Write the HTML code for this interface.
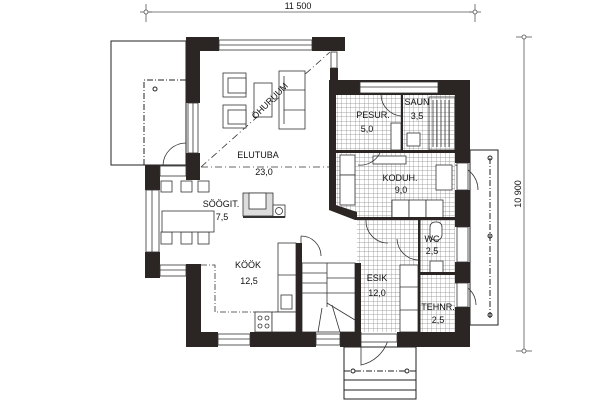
<!DOCTYPE html>
<html><head><meta charset="utf-8"><style>
html,body{margin:0;padding:0;background:#fff;}
svg{display:block;}
text{font-family:"Liberation Sans",sans-serif;font-size:9px;fill:#111;text-anchor:middle;}
</style></head><body>
<svg width="606" height="403" viewBox="0 0 606 403" xmlns="http://www.w3.org/2000/svg">
<defs>
<pattern id="g" width="4.5" height="4.5" patternUnits="userSpaceOnUse">
<rect width="4.5" height="4.5" fill="#fff"/>
<path d="M4.5 0V4.5M0 4.5H4.5" stroke="#888" stroke-width="0.7"/>
</pattern>
</defs>
<g stroke="#555" stroke-width="0.8" fill="none">
<line x1="146" y1="12" x2="475" y2="12"/>
<line x1="146" y1="4" x2="146" y2="22"/><line x1="475" y1="4" x2="475" y2="22"/>
<line x1="140" y1="12" x2="152" y2="12"/><line x1="469" y1="12" x2="481" y2="12"/>
<circle cx="146" cy="12" r="2" fill="#fff"/><circle cx="475" cy="12" r="2" fill="#fff"/>
<line x1="524" y1="37" x2="524" y2="351"/>
<line x1="516" y1="37" x2="532" y2="37"/><line x1="516" y1="351" x2="532" y2="351"/>
<circle cx="524" cy="37" r="2" fill="#fff"/><circle cx="524" cy="351" r="2" fill="#fff"/>
</g>
<text x="298" y="9">11 500</text>
<text transform="translate(521,194) rotate(-90)">10 900</text>

<g stroke="#222" stroke-width="1" fill="none">
<rect x="111" y="41" width="75" height="124"/>
<path d="M144 165V80H186" stroke-dasharray="6,2,1,2"/>
<circle cx="155" cy="89" r="2"/>
<rect x="470" y="150" width="28" height="175"/>
<line x1="490" y1="158" x2="490" y2="318" stroke-dasharray="6,2,1,2"/>
<circle cx="490" cy="158" r="2"/><circle cx="490" cy="236" r="2"/><circle cx="490" cy="315" r="2"/>
<rect x="344" y="347" width="72" height="52"/>
<line x1="344" y1="371" x2="416" y2="371" stroke-dasharray="6,2,1,2"/>
<line x1="344" y1="380" x2="416" y2="380"/><line x1="344" y1="390" x2="416" y2="390"/>
<circle cx="353" cy="371" r="2" fill="#fff"/><circle cx="407" cy="371" r="2" fill="#fff"/>
</g>

<g fill="url(#g)">
<rect x="336" y="95" width="119" height="123"/>
<rect x="357" y="220" width="98" height="112"/>
<path d="M336 205L357 218H336Z" fill="#fff"/>
</g>

<g stroke="#333" stroke-width="0.8" fill="none" stroke-dasharray="7,3,1,3">
<line x1="201" y1="167" x2="330" y2="52"/>
<line x1="201" y1="167" x2="330" y2="167"/>
</g>

<g stroke="#333" stroke-width="0.8" fill="#fff">
<rect x="279" y="71" width="26" height="58"/><line x1="284" y1="76" x2="284" y2="124"/>
<line x1="284" y1="90" x2="305" y2="90"/><line x1="284" y1="110" x2="305" y2="110"/>
<rect x="223" y="73" width="23" height="24"/><rect x="228" y="78" width="18" height="15"/>
<rect x="223" y="105" width="23" height="23"/><rect x="228" y="110" width="18" height="14"/>
<rect x="254" y="83" width="18" height="34"/>
<rect x="161" y="181" width="11" height="11"/><rect x="181" y="181" width="11" height="11"/><rect x="198" y="181" width="11" height="11"/>
<rect x="161" y="232" width="11" height="12"/><rect x="181" y="232" width="11" height="12"/><rect x="198" y="232" width="11" height="12"/>
<rect x="162" y="211" width="52" height="21"/>
<rect x="243" y="193" width="30" height="23" fill="#ddd"/><rect x="249" y="193" width="17" height="16"/>
<rect x="273" y="205" width="12" height="12"/><circle cx="279" cy="211" r="3.5"/>
<line x1="243" y1="217" x2="285" y2="217" stroke-width="2"/>
<rect x="278" y="243" width="18" height="69"/>
<line x1="278" y1="275" x2="296" y2="275"/><rect x="281" y="295" width="11" height="14"/>
<path d="M201 265H215V312H278V332" fill="none" stroke-dasharray="6,2,1,2"/>
<rect x="255" y="312" width="17" height="20"/><rect x="272" y="312" width="24" height="20"/>
<circle cx="260" cy="318" r="2"/><circle cx="267" cy="318" r="2"/><circle cx="260" cy="326" r="2"/><circle cx="267" cy="326" r="2"/>
<rect x="302" y="263" width="53" height="69"/>
<line x1="327" y1="263" x2="327" y2="307"/>
<path d="M302 273H327M302 283H327M302 293H327M327 278H355M327 293H355M327 303L355 320M332 305L340 332M322 308L318 332"/>
<rect x="340" y="155" width="15" height="20"/><rect x="340" y="175" width="15" height="30"/>
<rect x="392" y="200" width="17" height="18"/><rect x="409" y="200" width="17" height="18"/><rect x="426" y="200" width="17" height="18"/>
<rect x="436" y="165" width="16" height="25"/>
<rect x="373" y="156" width="33" height="8"/>
<rect x="400" y="265" width="18" height="67"/><line x1="400" y1="287" x2="418" y2="287"/><line x1="400" y1="310" x2="418" y2="310"/>
<rect x="430" y="222" width="12" height="18" rx="5"/><rect x="430" y="261" width="13" height="12"/>
<rect x="429" y="97" width="26" height="53" fill="none"/>
<path d="M433 100V147M437 100V147M441 100V147M445 100V147M449 100V147" fill="none"/>
<rect x="391" y="123" width="10" height="27"/>
<rect x="407" y="133" width="13" height="13"/>
</g>
<g stroke="#333" stroke-width="0.8" fill="none">
<path d="M163 165A23 23 0 0 1 186 143"/>
<path d="M301 236A20 20 0 0 1 321 256"/><line x1="301" y1="236" x2="301" y2="256"/>
<path d="M361 332V365A36 36 0 0 0 388 340"/>
<path d="M381 95A22 22 0 0 0 401 116"/>
<path d="M358 165A22 22 0 0 0 380 153"/>
<path d="M366 220A22 22 0 0 0 388 243"/>
<path d="M397 239A22 22 0 0 0 418 260"/>
<path d="M455 165A25 25 0 0 1 478 190"/>
<path d="M455 283A22 22 0 0 1 476 305"/>
</g>

<g fill="#2b2624">
<rect x="186" y="37" width="33" height="14"/>
<rect x="312" y="37" width="33" height="14"/>
<rect x="186" y="37" width="14" height="66"/>
<rect x="186" y="153" width="14" height="27"/>
<rect x="145" y="165" width="15" height="25"/>
<rect x="145" y="252" width="15" height="26"/>
<rect x="186" y="264" width="15" height="83"/>
<rect x="186" y="332" width="32" height="15"/>
<rect x="250" y="332" width="66" height="15"/>
<rect x="340" y="332" width="21" height="15"/>
<rect x="397" y="332" width="73" height="15"/>
<rect x="296" y="243" width="6" height="89"/>
<rect x="355" y="263" width="6" height="69"/>
<rect x="330" y="68" width="8" height="12"/>
<path d="M329 80H470V95H336V205L357 212V220H355L329 210Z"/>
<rect x="438" y="80" width="32" height="15"/>
<rect x="455" y="80" width="15" height="83"/>
<rect x="455" y="190" width="15" height="37"/>
<rect x="455" y="262" width="15" height="21"/>
<rect x="455" y="307" width="15" height="40"/>
<rect x="336" y="150" width="119" height="3"/>
<rect x="401" y="95" width="2" height="55"/>
<rect x="357" y="217" width="98" height="3"/>
<rect x="418" y="220" width="2.5" height="112"/>
<rect x="420" y="272" width="35" height="3"/>
</g>
<g stroke="#333" stroke-width="0.8" fill="#fff">
<rect x="219" y="40" width="93" height="10"/><line x1="219" y1="45" x2="312" y2="45"/>
<rect x="188" y="103" width="10" height="50"/><line x1="193" y1="103" x2="193" y2="153"/>
<rect x="146" y="190" width="13" height="62"/><line x1="152" y1="190" x2="152" y2="252"/>
<rect x="160" y="265" width="26" height="11"/><line x1="160" y1="270" x2="186" y2="270"/>
<rect x="160" y="166" width="26" height="10"/>
<rect x="218" y="334" width="32" height="11"/><line x1="218" y1="339" x2="250" y2="339"/>
<rect x="316" y="334" width="24" height="11"/><line x1="316" y1="339" x2="340" y2="339"/>
<rect x="361" y="334" width="36" height="8"/>
<rect x="360" y="82" width="78" height="11"/><line x1="360" y1="87" x2="438" y2="87"/>
<rect x="457" y="163" width="11" height="27"/><rect x="457" y="227" width="11" height="35"/><rect x="457" y="283" width="11" height="24"/>
<rect x="331" y="52" width="6" height="16"/>
</g>

<text transform="translate(272,103) rotate(-45)">ÖHURUUM</text>
<text x="258" y="158">ELUTUBA</text><text x="264" y="175">23,0</text>
<text x="221" y="207">SÖÖGIT.</text><text x="222" y="220">7,5</text>
<text x="248" y="268">KÖÖK</text><text x="249" y="284">12,5</text>
<text x="373" y="118">PESUR.</text><text x="367" y="132">5,0</text>
<text x="417" y="105">SAUN</text><text x="417" y="119">3,5</text>
<text x="400" y="181">KODUH.</text><text x="401" y="193">9,0</text>
<text x="432" y="242">WC</text><text x="432" y="254">2,5</text>
<text x="377" y="281">ESIK</text><text x="377" y="296">12,0</text>
<text x="438" y="310">TEHNR.</text><text x="438" y="323">2,5</text>
</svg>
</body></html>
